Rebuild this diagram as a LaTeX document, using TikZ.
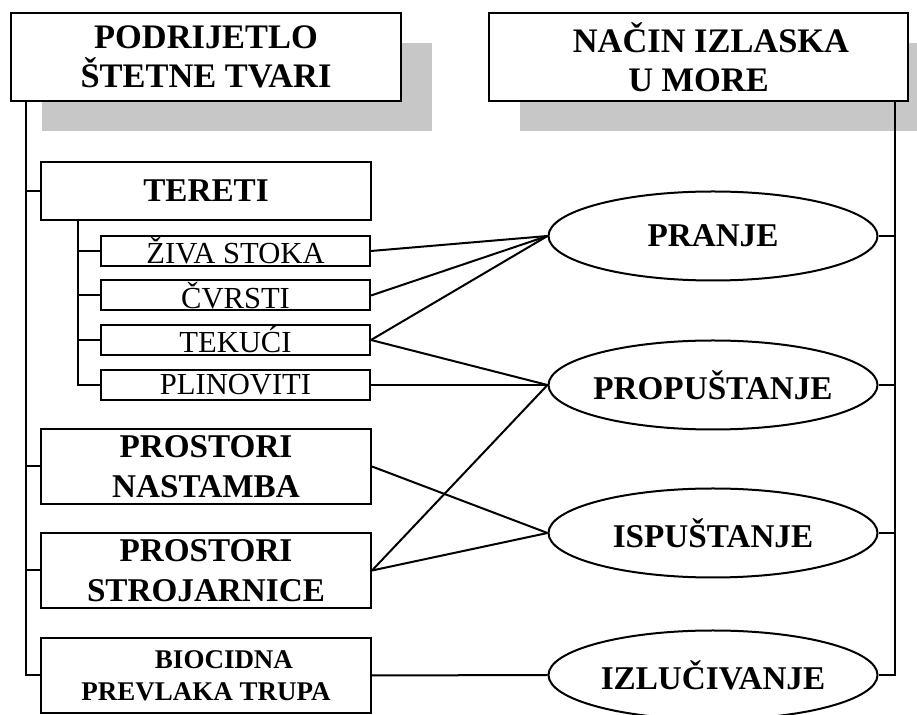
\documentclass[tikz,border=0pt]{standalone}
\usepackage{fontspec}
\setmainfont{Liberation Serif}
\usetikzlibrary{shapes.geometric,shadows}

\begin{document}
\begin{tikzpicture}[x=0.5pt, y=-0.5pt, line width=1pt,
  hdr/.style = {draw, fill=white, align=center, minimum height=44pt, inner sep=0pt, font=\bfseries\fontsize{17.2}{19.5}\selectfont, drop shadow={shadow xshift=15.5pt, shadow yshift=-15pt, opacity=1, fill=black!22}},
  src/.style = {draw, align=center, minimum width=165pt, minimum height=37.5pt, inner sep=0pt, font=\bfseries\fontsize{16.6}{20.3}\selectfont},
  part/.style = {draw, minimum width=134.5pt, minimum height=15pt, inner sep=0pt, font=\fontsize{15.3}{16}\selectfont},
  exit/.style = {draw, ellipse, minimum width=164.5pt, minimum height=44.5pt, inner xsep=-4pt, inner ysep=0pt, font=\bfseries\fontsize{16.6}{19}\selectfont}]
                    \useasboundingbox (0,0) rectangle (917,715);
                    \node[hdr, minimum width=195pt] (hl) at (206,57) {PODRIJETLO\\ŠTETNE TVARI};
                    \node[hdr, minimum width=209.5pt] (hr) at (698.5,57) {\hspace*{12.5pt}NAČIN IZLASKA\\U MORE};
                    \node[src, minimum height=29pt] (tereti) at (206,191) {TERETI};
                    \node[part] (ziva) at (235.5,251) {ŽIVA STOKA};
                    \node[part] (cvrsti) at (235.5,295.5) {ČVRSTI};
                    \node[part] (tekuci) at (235.5,340) {TEKUĆI};
                    \node[part] (plin) at (235.5,385) {PLINOVITI};
                    \node[src] (nast) at (206,466.5) {PROSTORI\\NASTAMBA};
                    \node[src] (stroj) at (206,570.5) {PROSTORI\\STROJARNICE};
                    \node[src, font=\bfseries\fontsize{13.5}{15.8}\selectfont] (bio) at (206,675.5) {\hspace*{18pt}BIOCIDNA\\PREVLAKA TRUPA};
                    \node[exit] (pranje) at (713,236) {PRANJE};
                    \node[exit] (prop) at (713,385) {PROPUŠTANJE};
                    \node[exit] (isp) at (713,533) {ISPUŠTANJE};
                    \node[exit] (izl) at (713,675) {IZLUČIVANJE};
                    % trunk lines
                    \coordinate (lt) at ([xshift=8pt]hl.south west);
                    \coordinate (it) at ([xshift=19pt]tereti.south west);
                    \coordinate (rt) at ([xshift=-7pt]hr.south east);
                    \draw (lt) |- (bio.west);
                    \draw (lt |- tereti.west) -- (tereti.west);
                    \draw (lt |- nast.west) -- (nast.west);
                    \draw (lt |- stroj.west) -- (stroj.west);
                    \draw (it) |- (plin.west);
                    \draw (it |- ziva.west) -- (ziva.west);
                    \draw (it |- cvrsti.west) -- (cvrsti.west);
                    \draw (it |- tekuci.west) -- (tekuci.west);
                    \draw (rt) |- (izl.east);
                    \draw (rt |- pranje.east) -- (pranje.east);
                    \draw (rt |- prop.east) -- (prop.east);
                    \draw (rt |- isp.east) -- (isp.east);
                    % sources to ways
                    \draw (ziva.east) -- (pranje.west);
                    \draw (cvrsti.east) -- (pranje.west);
                    \draw (tekuci.east) -- (pranje.west);
                    \draw (tekuci.east) -- (prop.west);
                    \draw (plin.east) -- (prop.west);
                    \draw (nast.east) -- (isp.west);
                    \draw (stroj.east) -- (prop.west);
                    \draw (stroj.east) -- (isp.west);
                    \draw (bio.east) -- (izl.west);
                \end{tikzpicture}
\end{document}
